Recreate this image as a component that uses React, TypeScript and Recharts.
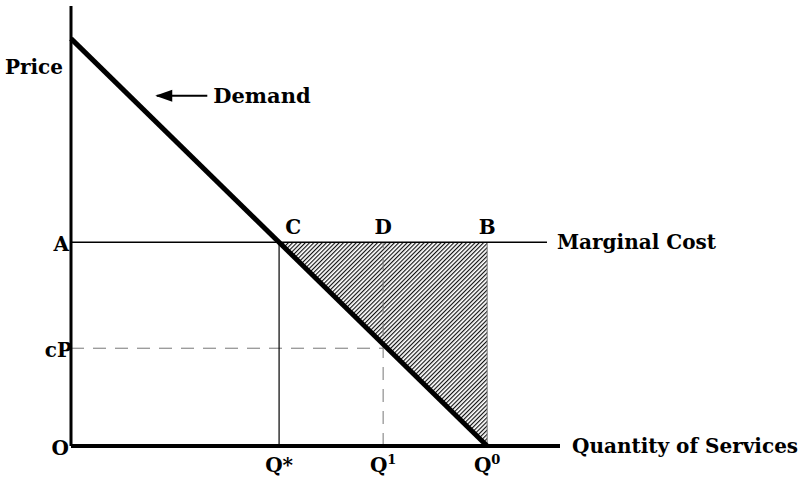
import {
  ComposedChart, Line, Area, Scatter, XAxis, YAxis, ReferenceDot,
} from "recharts";

// quantities on the horizontal axis
const X_TICKS = [40, 60, 80];
const X_TICK_NAMES = ["*", "1", "0"];
// price levels on the vertical axis
const Y_TICKS = [0, 24, 50];
const Y_TICK_NAMES = ["O", "cP", "A"];

const DEMAND = [
  { x: 0, p: 100 },
  { x: 80, p: 0 },
];
const MARGINAL_COST = [
  { x: 0, p: 50 },
  { x: 91.5, p: 50 },
];
const Q_STAR = [
  { x: 40, p: 0 },
  { x: 40, p: 50 },
];
const Q_ZERO = [
  { x: 80, p: 0 },
  { x: 80, p: 50 },
];
const CP_DASH = [
  { x: 0, p: 24 },
  { x: 60, p: 24 },
];
const Q_ONE_DASH = [
  { x: 60, p: 0 },
  { x: 60, p: 50 },
];
// triangle C-B-Q0 : [low, high]
const LOSS_AREA = [
  { x: 40, range: [50, 50] },
  { x: 80, range: [0, 50] },
];
const ARROW_SHAFT = [
  { x: 16.5, p: 86 },
  { x: 26.2, p: 86 },
];
const ARROW_TIP = [{ x: 16.2, p: 86 }];

const FONT = "'DejaVu Serif', serif";

const QTick = ({ x, y, payload }: any) => {
  const i = X_TICKS.indexOf(payload.value);
  const sup = X_TICK_NAMES[i];
  return (
    <text x={x} y={y} dy={26} textAnchor="middle" fontFamily={FONT} fontWeight="bold" fontSize={20} fill="#000">
      Q
      {sup === "*" ? <tspan>*</tspan> : <tspan dy={-8} fontSize={13}>{sup}</tspan>}
    </text>
  );
};

const PTick = ({ x, y, payload }: any) => {
  const i = Y_TICKS.indexOf(payload.value);
  const name = Y_TICK_NAMES[i];
  return (
    <text x={x + (name === "cP" ? 1 : -2)} y={y} dy={9} textAnchor="end" fontFamily={FONT} fontWeight="bold" fontSize={20} fill="#000">
      {name}
    </text>
  );
};

const ArrowHead = ({ cx, cy }: any) => (
  <path d={`M${cx},${cy} L${cx + 17},${cy - 6} L${cx + 17},${cy + 6} Z`} fill="#000" />
);

const lbl = (value: string, position: any, offset: number, size = 20) => ({
  value, position, offset,
  fill: "#000", fontFamily: FONT, fontWeight: "bold", fontSize: size,
});

export default function App() {
  return (
    <div style={{ position: "absolute", left: 0, top: 0, background: "#fff" }}>
      <ComposedChart width={799} height={485} margin={{ top: 6, right: 239, bottom: 0, left: 0 }}>
        <defs>
          <pattern id="hatch" patternUnits="userSpaceOnUse" width="3" height="3" patternTransform="rotate(45)">
            <rect width="3" height="3" fill="#fff" />
            <line x1="0" y1="0" x2="0" y2="3" stroke="#111" strokeWidth="2.3" />
          </pattern>
        </defs>
        <XAxis
          type="number" dataKey="x" domain={[0, 94]} ticks={X_TICKS} interval={0}
          height={39} tickSize={0} tickMargin={0} tick={<QTick />}
          axisLine={{ stroke: "#000", strokeWidth: 4 }} tickLine={false}
        />
        <YAxis
          type="number" domain={[0, 108]} ticks={Y_TICKS} interval={0}
          width={71} tickSize={0} tickMargin={0} tick={<PTick />}
          axisLine={{ stroke: "#000", strokeWidth: 3 }} tickLine={false}
        />
        <Area
          data={LOSS_AREA} dataKey="range" type="linear" stroke="none"
          fill="url(#hatch)" fillOpacity={1} isAnimationActive={false}
        />
        <Line data={Q_ZERO} dataKey="p" stroke="#777" strokeWidth={1} dot={false} activeDot={false} isAnimationActive={false} />
        <Line data={CP_DASH} dataKey="p" stroke="#777" strokeWidth={1} strokeDasharray="13 9" dot={false} activeDot={false} isAnimationActive={false} />
        <Line data={Q_ONE_DASH} dataKey="p" stroke="#777" strokeWidth={1} strokeDasharray="13 9" dot={false} activeDot={false} isAnimationActive={false} />
        <Line data={Q_STAR} dataKey="p" stroke="#000" strokeWidth={1.2} dot={false} activeDot={false} isAnimationActive={false} />
        <Line data={MARGINAL_COST} dataKey="p" stroke="#000" strokeWidth={1.5} dot={false} activeDot={false} isAnimationActive={false} />
        <Line data={DEMAND} dataKey="p" stroke="#000" strokeWidth={5} dot={false} activeDot={false} isAnimationActive={false} />
        <Line data={ARROW_SHAFT} dataKey="p" stroke="#000" strokeWidth={2} dot={false} activeDot={false} isAnimationActive={false} />
        <Scatter data={ARROW_TIP} dataKey="p" shape={<ArrowHead />} isAnimationActive={false} />

        <ReferenceDot x={0} y={93} r={0} stroke="none" label={lbl("Price", "left", 8)} />
        <ReferenceDot x={26.2} y={86} r={0} stroke="none" label={lbl("Demand", "right", 6, 21)} />
        <ReferenceDot x={91.5} y={50} r={0} stroke="none" label={lbl("Marginal Cost", "right", 10)} />
        <ReferenceDot x={94} y={0} r={0} stroke="none" label={lbl("Quantity of Services", "right", 12)} />
        <ReferenceDot x={42.7} y={50} r={0} stroke="none" label={lbl("C", "top", 8)} />
        <ReferenceDot x={60} y={50} r={0} stroke="none" label={lbl("D", "top", 8)} />
        <ReferenceDot x={80} y={50} r={0} stroke="none" label={lbl("B", "top", 8)} />
      </ComposedChart>
    </div>
  );
}
